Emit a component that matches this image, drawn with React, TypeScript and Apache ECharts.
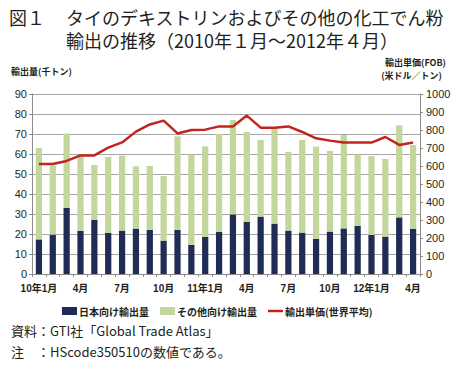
import React, { useEffect, useRef } from "react";
import * as echarts from "echarts";

const categories = [
  "10年1月", "2月", "3月", "4月", "5月", "6月", "7月", "8月", "9月", "10月", "11月", "12月",
  "11年1月", "2月", "3月", "4月", "5月", "6月", "7月", "8月", "9月", "10月", "11月", "12月",
  "12年1月", "2月", "3月", "4月",
];
const japanVolume = [
  17.3, 19.7, 33, 21.5, 27, 20.5, 21.7, 22.7, 22, 16.7, 22, 14.5,
  18.5, 21, 29.8, 26, 28.7, 25.2, 21.7, 20.7, 17.5, 21.2, 22.8, 24,
  19.5, 18.7, 28.3, 22.5,
];
const otherVolume = [
  45.7, 34.5, 37.3, 37.7, 27.5, 38, 37.5, 31.1, 32, 32.3, 46.8, 45.3,
  45.3, 49, 47.2, 45, 38.3, 47.6, 39.3, 46.3, 46.2, 40.3, 46.7, 35.8,
  39.5, 38.8, 46, 42,
];
const unitPrice = [
  611, 611, 628, 659, 659, 702, 731, 791, 831, 852, 781, 800,
  802, 820, 820, 880, 813, 813, 820, 789, 754, 741, 730, 730,
  730, 761, 717, 730,
];
const seriesNames = ["日本向け輸出量", "その他向け輸出量", "輸出単価(世界平均)"];

const JP = "'Noto Sans CJK JP', sans-serif";
const NUM = "'Liberation Sans', 'Noto Sans CJK JP', sans-serif";
const TXT = "#231f20";

export default function App() {
  const ref = useRef<HTMLDivElement>(null);
  useEffect(() => {
    if (!ref.current) return;
    const chart = echarts.init(ref.current, null, { renderer: "svg" });
    chart.setOption({
      animation: false,
      backgroundColor: "#ffffff",
      textStyle: { fontFamily: JP },
      grid: { left: 32, right: 38, top: 94, bottom: 95, containLabel: false },
      graphic: [
        { type: "text", left: 9, top: 7, style: { text: "図１", font: `18px ${JP}`, lineHeight: 20, fill: TXT } },
        {
          type: "text",
          left: 66,
          top: 5,
          style: {
            text: "タイのデキストリンおよびその他の化工でん粉\n輸出の推移（2010年１月～2012年４月）",
            font: `18px ${JP}`,
            lineHeight: 23.5,
            fill: TXT,
          },
        },
        { type: "text", left: 11, top: 67, style: { text: "輸出量(千トン)", font: `bold 9px ${JP}`, fill: TXT } },
        { type: "text", right: 12, top: 58, style: { text: "輸出単価(FOB)", font: `bold 9px ${JP}`, fill: TXT } },
        { type: "text", right: 16, top: 71, style: { text: "(米ドル／トン)", font: `bold 9px ${JP}`, fill: TXT } },
        { type: "text", left: 11, top: 324, style: { text: "資料：GTI社「Global Trade Atlas」", font: `13px ${JP}`, fill: TXT } },
        { type: "text", left: 11, top: 345, style: { text: "注　：HScode350510の数値である。", font: `13px ${JP}`, fill: TXT } },
      ],
      legend: {
        left: 57,
        top: 301,
        itemWidth: 15,
        itemHeight: 8,
        itemGap: 11,
        textStyle: { fontSize: 10, fontWeight: "bold", color: TXT, fontFamily: JP, padding: [0, 0, 0, -3] },
        data: [
          { name: seriesNames[0], icon: "rect" },
          { name: seriesNames[1], icon: "rect" },
          { name: seriesNames[2], icon: "path://M0,0H36V6H0Z", symbolKeepAspect: true },
        ],
      },
      xAxis: {
        type: "category",
        data: categories,
        boundaryGap: true,
        axisLine: { lineStyle: { color: "#8c8c8c", width: 1 } },
        axisTick: { show: true, interval: 0, length: 3, lineStyle: { color: "#8c8c8c" } },
        axisLabel: { interval: 2, margin: 9, fontSize: 10, fontWeight: "bold", color: TXT, fontFamily: NUM },
      },
      yAxis: [
        {
          type: "value",
          min: 0,
          max: 90,
          interval: 10,
          axisLine: { show: true, lineStyle: { color: "#8c8c8c" } },
          axisTick: { show: true, length: 3, lineStyle: { color: "#8c8c8c" } },
          axisLabel: { margin: 5, fontSize: 11, color: TXT, fontFamily: NUM },
          splitLine: { show: true, lineStyle: { color: "#a6a6a6", width: 1 } },
        },
        {
          type: "value",
          min: 0,
          max: 1000,
          interval: 100,
          position: "right",
          axisLine: { show: true, lineStyle: { color: "#8c8c8c" } },
          axisTick: { show: true, length: 3, lineStyle: { color: "#8c8c8c" } },
          axisLabel: { margin: 6, fontSize: 11, color: TXT, fontFamily: NUM, formatter: (v: number) => String(v) },
          splitLine: { show: false },
        },
      ],
      series: [
        {
          name: seriesNames[0],
          type: "bar",
          stack: "vol",
          barWidth: "45%",
          itemStyle: { color: "#1f2d56" },
          data: japanVolume,
        },
        {
          name: seriesNames[1],
          type: "bar",
          stack: "vol",
          barWidth: "45%",
          itemStyle: { color: "#c3d69b" },
          data: otherVolume,
        },
        {
          name: seriesNames[2],
          type: "line",
          yAxisIndex: 1,
          symbol: "none",
          lineStyle: { color: "#c0261e", width: 2.5 },
          itemStyle: { color: "#c0261e" },
          data: unitPrice,
        },
      ],
    });
    return () => chart.dispose();
  }, []);
  return <div ref={ref} style={{ width: 458, height: 369, position: "absolute", left: 0, top: 0 }} />;
}
